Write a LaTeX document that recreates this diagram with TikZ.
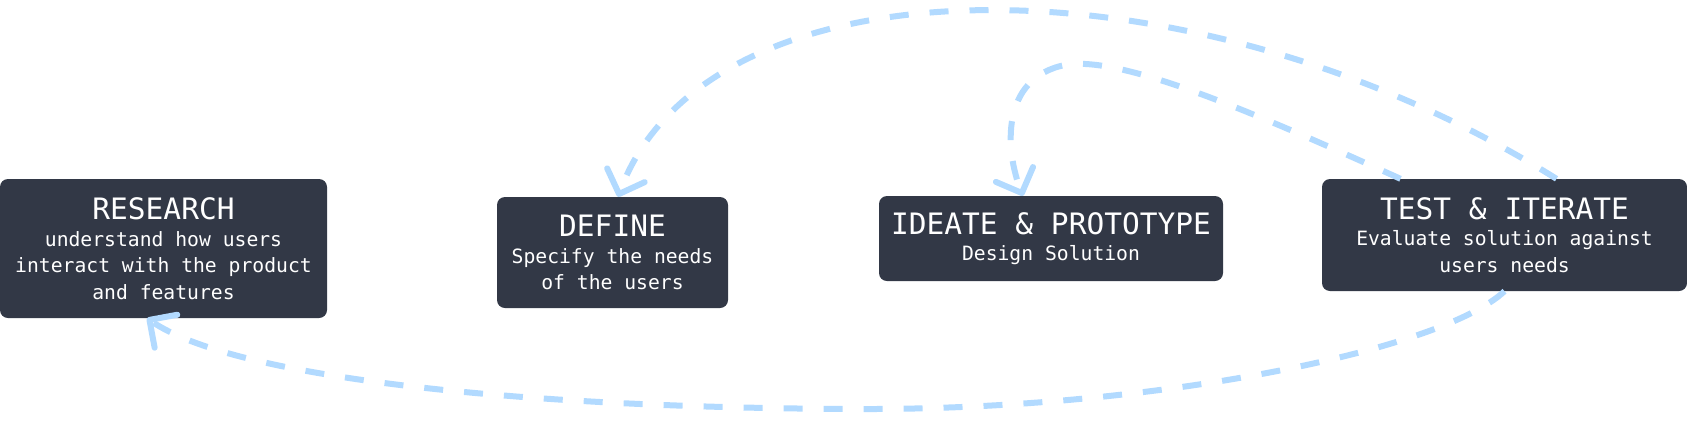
\documentclass[tikz,border=0pt]{standalone}
\usepackage{fontspec}
\newfontfamily\monofam{DejaVu Sans Mono}
\usetikzlibrary{arrows.meta}
\definecolor{boxfill}{RGB}{50,56,70}
\definecolor{flow}{RGB}{178,218,255}
\newcommand\stagetitle[1]{{\fontsize{29.5}{30}\selectfont #1}}
\begin{document}
\begin{tikzpicture}[x=1pt,y=-1pt,
  stage/.style={fill=boxfill, rounded corners=8pt, inner sep=0pt, text=white,
    align=center, font=\monofam\fontsize{19.7}{26.5}\selectfont},
  loopline/.style={draw=flow, line width=6pt, dash pattern=on 19pt off 21pt,
    -{Straight Barb[length=20pt,width=40pt,round]}}
]
\useasboundingbox (0,0) rectangle (1687,424);
\node[stage, minimum width=327pt, minimum height=139pt] (research) at (163.5,248.5)
  {\stagetitle{RESEARCH}\\understand how users\\interact with the product\\and features};
\node[stage, minimum width=231pt, minimum height=111pt] (define) at (612.5,252.5)
  {\stagetitle{DEFINE}\\Specify the needs\\of the users};
\node[stage, minimum width=344pt, minimum height=85pt] (ideate) at (1051,238.5)
  {\stagetitle{IDEATE \& PROTOTYPE}\\Design Solution};
\node[stage, minimum width=365pt, minimum height=112pt] (test) at (1504.5,235)
  {\stagetitle{TEST \& ITERATE}\\Evaluate solution against\\users needs};
\draw[loopline] ([xshift=52pt]test.north) .. controls +(-363,-227) and +(90,-245) .. ([xshift=5.5pt]define.north);
\draw[loopline] ([xshift=-104pt]test.north) .. controls +(-150,-68) and +(55,-10) .. (1065,65)
  .. controls +(-65,13) and +(-18,-45) .. ([xshift=-28pt]ideate.north);
\draw[loopline] (test.south) .. controls +(-64,60) and +(290,1) .. (860,409)
  .. controls +(-360,-1) and +(83,57) .. ([xshift=-16.5pt]research.south);
\end{tikzpicture}
\end{document}
